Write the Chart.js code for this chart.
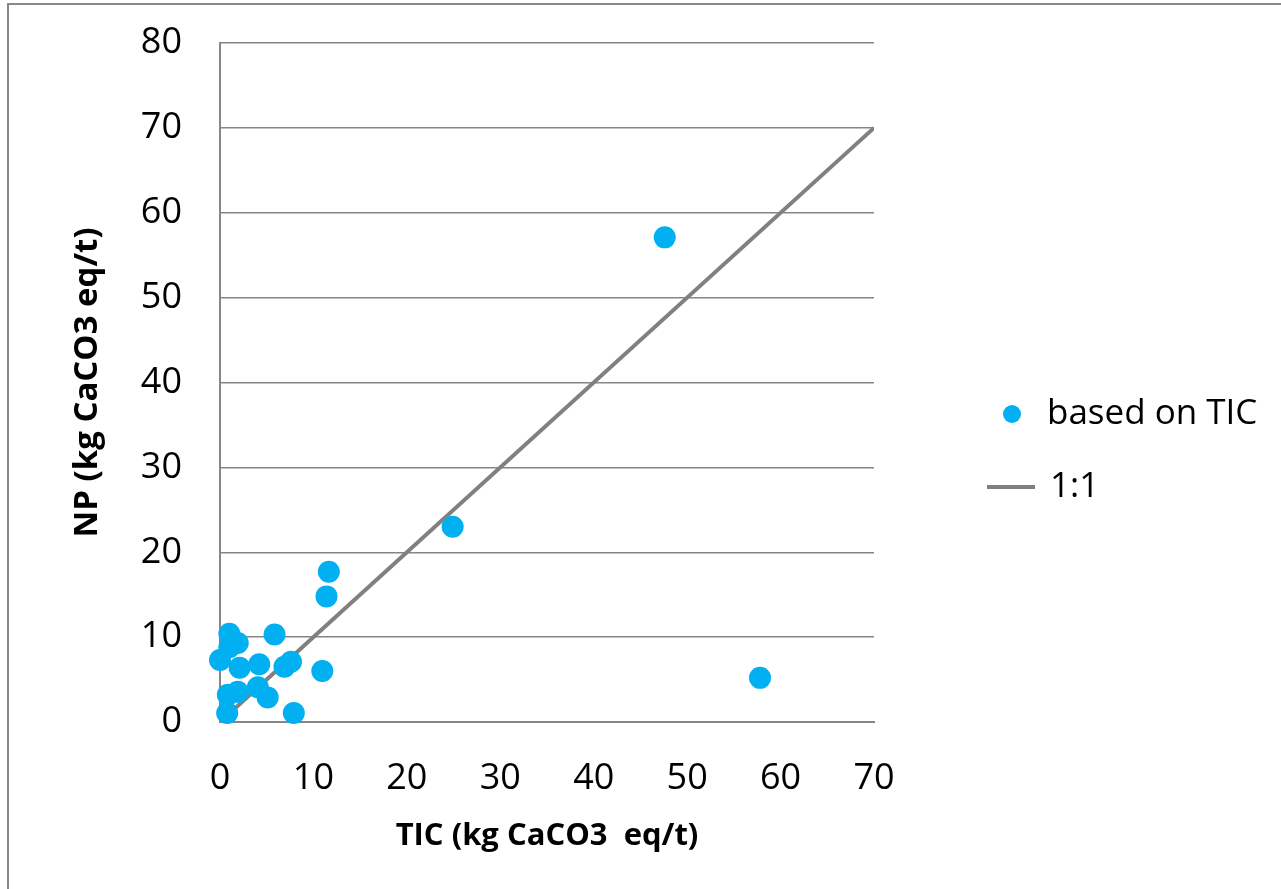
<!DOCTYPE html>
<html>
<head>
<meta charset="utf-8">
<script src="https://cdn.jsdelivr.net/npm/chart.js@4.4.1/dist/chart.umd.min.js"></script>
<style>
  html, body { margin: 0; padding: 0; background: #fff; }
  #wrap { width: 1281px; height: 889px; position: relative; }
</style>
</head>
<body>
<div id="wrap"><canvas id="scatter-chart" width="1281" height="889"></canvas></div>
<script>
// data
const ticValues = [47.6, 57.8, 24.9, 11.65, 11.4, 1.0, 5.84, 1.9, 1.0, 0, 2.1, 4.2, 6.9, 7.6, 10.95, 0.84, 1.9, 4.05, 5.1, 0.77, 7.9];
const npValues  = [57.1, 5.2, 23.0, 17.7, 14.8, 10.4, 10.3, 9.3, 8.8, 7.3, 6.4, 6.8, 6.5, 7.1, 6.0, 3.2, 3.55, 4.1, 2.9, 1.07, 1.07];
const lineX = [0, 70];
const lineY = [0, 70];
const xTicks = [0, 10, 20, 30, 40, 50, 60, 70];
const yTicks = [0, 10, 20, 30, 40, 50, 60, 70, 80];
const seriesLabels = ["based on TIC", "1:1"];

const pointColor = "#00B0F0";
const lineColor = "#808080";
const font = "'Open Sans', 'Liberation Sans', sans-serif";

const scatterData = ticValues.map((x, i) => ({ x: x, y: npValues[i] }));
const oneToOne = lineX.map((x, i) => ({ x: x, y: lineY[i] }));

// legend + bingkai digambar sendiri
const customLegend = {
  id: "customLegend",
  afterDraw(chart) {
    const ctx = chart.ctx;
    const right = chart.chartArea.right;
    ctx.save();
    // bingkai luar (kiri dan atas saja)
    ctx.strokeStyle = "#888";
    ctx.lineWidth = 2;
    ctx.beginPath();
    ctx.moveTo(8, chart.height);
    ctx.lineTo(8, 4);
    ctx.lineTo(chart.width, 4);
    ctx.stroke();

    const ds = chart.data.datasets;
    ctx.font = "35px " + font;
    ctx.fillStyle = "#000";
    ctx.textBaseline = "middle";

    ctx.beginPath();
    ctx.fillStyle = ds[0].backgroundColor;
    ctx.arc(right + 138, 414, 9, 0, Math.PI * 2);
    ctx.fill();
    ctx.fillStyle = "#000";
    ctx.fillText(ds[0].label, right + 173, 414);

    ctx.strokeStyle = ds[1].borderColor;
    ctx.lineWidth = 4;
    ctx.beginPath();
    ctx.moveTo(right + 113, 487);
    ctx.lineTo(right + 161, 487);
    ctx.stroke();
    ctx.fillText(ds[1].label, right + 176, 487);
    ctx.restore();
  },
};

const ctx = document.getElementById("scatter-chart").getContext("2d");
new Chart(ctx, {
  type: "scatter",
  data: {
    datasets: [
      {
        label: seriesLabels[0],
        data: scatterData,
        backgroundColor: pointColor,
        borderWidth: 0,
        pointRadius: 11,
        clip: false,
        order: 1,
      },
      {
        type: "line",
        label: seriesLabels[1],
        data: oneToOne,
        borderColor: lineColor,
        borderWidth: 4,
        pointRadius: 0,
        fill: false,
        order: 2,
      },
    ],
  },
  options: {
    responsive: false,
    animation: false,
    layout: { padding: { top: 43, right: 407, left: 0, bottom: 0 } },
    plugins: {
      legend: { display: false },
      tooltip: { enabled: false },
    },
    scales: {
      x: {
        type: "linear",
        min: 0,
        max: 70,
        afterBuildTicks: (s) => { s.ticks = xTicks.map((v) => ({ value: v })); },
        afterFit: (s) => { s.height = 167; s.paddingLeft = 0; s.paddingRight = 0; },
        grid: { display: false, drawTicks: false },
        border: { display: true, color: "#868686", width: 2 },
        ticks: {
          padding: 35,
          color: "#000",
          font: { family: font, size: 36 },
        },
        title: {
          display: true,
          text: "TIC (kg CaCO3  eq/t)",
          color: "#000",
          font: { family: font, size: 31, weight: "bold" },
          padding: { top: 0, bottom: 34 },
        },
      },
      y: {
        type: "linear",
        min: 0,
        max: 80,
        afterBuildTicks: (s) => { s.ticks = yTicks.map((v) => ({ value: v })); },
        afterFit: (s) => { s.width = 220; s.paddingTop = 0; s.paddingBottom = 0; },
        grid: { color: "#868686", lineWidth: 1.5, drawTicks: false },
        border: { display: true, color: "#868686", width: 2 },
        ticks: {
          padding: 38,
          color: "#000",
          font: { family: font, size: 36 },
        },
        title: {
          display: true,
          text: "NP (kg CaCO3 eq/t)",
          color: "#000",
          font: { family: font, size: 33, weight: "bold" },
          padding: { top: 68, bottom: 0 },
        },
      },
    },
  },
  plugins: [customLegend],
});
</script>
</body>
</html>
